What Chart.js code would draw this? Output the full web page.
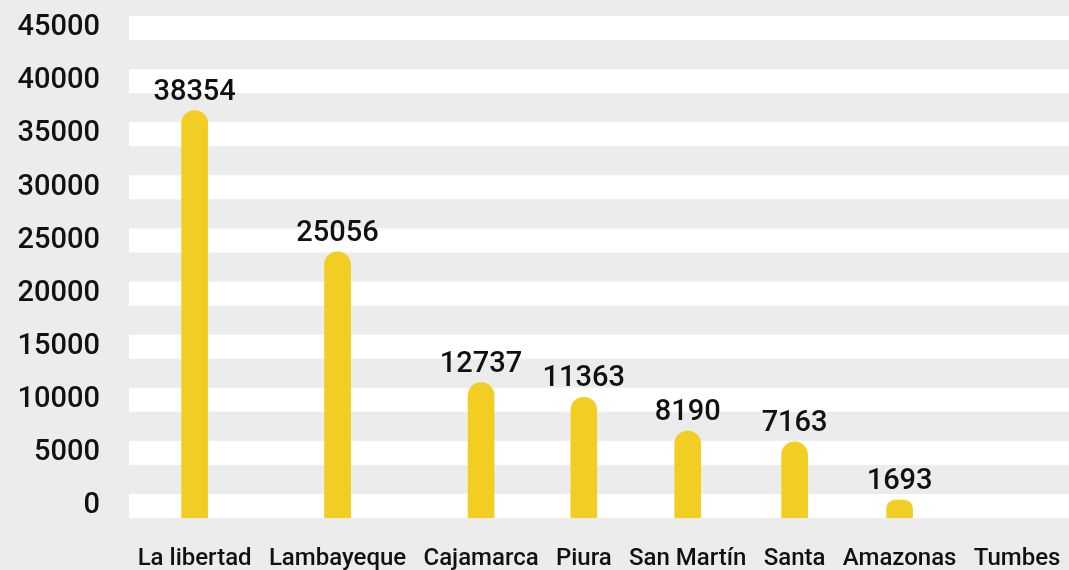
<!DOCTYPE html>
<html>
<head>
<meta charset="utf-8">
<script src="https://cdn.jsdelivr.net/npm/chart.js@4/dist/chart.umd.min.js"></script>
<style>
  html, body { margin: 0; padding: 0; background: #ececec; }
  #wrap { width: 1069px; height: 570px; }
</style>
</head>
<body>
<div id="wrap"><canvas id="c" width="1069" height="570"></canvas></div>
<script>
// ---- data ----
const categories = ['La libertad', 'Lambayeque', 'Cajamarca', 'Piura', 'San Martín', 'Santa', 'Amazonas', 'Tumbes'];
const values = [38354, 25056, 12737, 11363, 8190, 7163, 1693, null];
const yTickValues = [0, 5000, 10000, 15000, 20000, 25000, 30000, 35000, 40000, 45000];

// Category scale whose slots are sized by their label widths (space-around layout)
class SpacedCategoryScale extends Chart.CategoryScale {
  _centers() {
    const labels = this.getLabels();
    const ctx = this.ctx;
    const font = Chart.helpers.toFont(this.options.ticks.font);
    ctx.save();
    ctx.font = font.string;
    const widths = labels.map(l => ctx.measureText(String(l)).width);
    ctx.restore();
    const total = widths.reduce((a, b) => a + b, 0);
    const gap = (this.width - total) / labels.length;
    let x = this.left + gap / 2;
    return widths.map(w => { const c = x + w / 2; x += w + gap; return c; });
  }
  getPixelForValue(value) {
    if (typeof value !== 'number') value = this.parse(value);
    if (value === null || isNaN(value) || !this.width) return super.getPixelForValue(value);
    const c = this._centers()[Math.round(value)];
    return c === undefined ? super.getPixelForValue(value) : c;
  }
}
SpacedCategoryScale.id = 'spacedCategory';
SpacedCategoryScale.defaults = Chart.CategoryScale.defaults;
Chart.register(SpacedCategoryScale);

const FONT = 'Roboto, "Noto Sans", sans-serif';

const stripes = {
  id: 'stripes',
  beforeDraw(chart, args, opts) {
    const { ctx, chartArea, scales } = chart;
    ctx.save();
    ctx.fillStyle = opts.background;
    ctx.fillRect(0, 0, chart.width, chart.height);
    ctx.fillStyle = opts.band;
    scales.y.ticks.forEach(t => {
      const py = scales.y.getPixelForValue(t.value);
      ctx.fillRect(chartArea.left, py - opts.height, chart.width - chartArea.left, opts.height);
    });
    ctx.restore();
  }
};

const valueLabels = {
  id: 'valueLabels',
  afterDatasetsDraw(chart, args, opts) {
    const { ctx } = chart;
    const meta = chart.getDatasetMeta(0);
    ctx.save();
    ctx.font = opts.font;
    ctx.fillStyle = opts.color;
    ctx.textAlign = 'center';
    ctx.textBaseline = 'alphabetic';
    meta.data.forEach((bar, i) => {
      const v = chart.data.datasets[0].data[i];
      if (v === null || v === undefined) return;
      ctx.fillText(String(v), bar.x, bar.y - opts.gap);
    });
    ctx.restore();
  }
};

new Chart(document.getElementById('c'), {
  type: 'bar',
  data: {
    labels: categories,
    datasets: [{
      data: values,
      backgroundColor: '#f2ce22',
      borderWidth: 0,
      barThickness: 26,
      borderRadius: 13,
      borderSkipped: 'start'
    }]
  },
  options: {
    responsive: false,
    devicePixelRatio: 1,
    animation: false,
    events: [],
    layout: { padding: { top: 40, left: 0, right: 0, bottom: 0 } },
    plugins: {
      legend: { display: false },
      tooltip: { enabled: false },
      stripes: { background: '#ececec', band: '#ffffff', height: 24 },
      valueLabels: { font: '500 29px ' + FONT, color: '#111111', gap: 11 }
    },
    scales: {
      x: {
        type: 'spacedCategory',
        grid: { display: false, drawTicks: false },
        border: { display: false },
        ticks: {
          autoSkip: false, maxRotation: 0, minRotation: 0,
          padding: 27,
          color: '#111111',
          font: { family: FONT, size: 24, weight: '500' }
        },
        afterFit(scale) {
          scale.height = 52;
          scale.paddingLeft = 0; scale.paddingRight = 0;
          scale.paddingTop = 0; scale.paddingBottom = 0;
        }
      },
      y: {
        min: 0, max: 45000,
        grid: { display: false, drawTicks: false },
        border: { display: false },
        afterBuildTicks(scale) { scale.ticks = yTickValues.map(v => ({ value: v })); },
        ticks: {
          padding: 29,
          labelOffset: -12,
          color: '#111111',
          font: { family: FONT, size: 29, weight: '500' },
          callback: (v) => String(v)
        },
        afterFit(scale) {
          scale.width = 129;
          scale.paddingTop = 0; scale.paddingBottom = 0;
          scale.paddingLeft = 0; scale.paddingRight = 0;
        }
      }
    }
  },
  plugins: [stripes, valueLabels]
});
</script>
</body>
</html>
